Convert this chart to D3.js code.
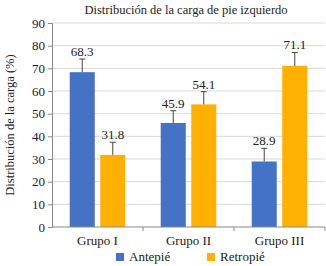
<!DOCTYPE html>
<html>
<head>
<meta charset="utf-8">
<script src="https://cdn.jsdelivr.net/npm/d3@7"></script>
<style>
  body { margin: 0; background: #fff; }
</style>
</head>
<body>
<svg id="chart"></svg>
<script>
const groups = ['Grupo I', 'Grupo II', 'Grupo III'];
const seriesNames = ['Antepié', 'Retropié'];
const antepie = [68.3, 45.9, 28.9];
const retropie = [31.8, 54.1, 71.1];
const antepieErr = [5.8, 5.4, 5.8];
const retropieErr = [5.6, 5.6, 5.9];
const yTicks = [0, 10, 20, 30, 40, 50, 60, 70, 80, 90];
const colors = ['#4472C4', '#FFB000'];

const FONT = '"Liberation Serif", "Times New Roman", Times, "DejaVu Serif", serif';
const width = 326, height = 266;
const margin = { top: 23, right: 1, bottom: 39, left: 52 };
const innerW = width - margin.left - margin.right;
const innerH = height - margin.top - margin.bottom;

const svg = d3.select('#chart').attr('width', width).attr('height', height)
  .style('font-family', FONT);
const g = svg.append('g').attr('transform', `translate(${margin.left},${margin.top})`);

const x = d3.scaleBand().domain(groups).range([0, innerW]).padding(0);
const xs = d3.scaleBand().domain(seriesNames).range([0, x.bandwidth()])
  .paddingInner(0.18).paddingOuter(0.58);
const y = d3.scaleLinear().domain([0, 90]).range([innerH, 0]);

// grid
g.append('g').selectAll('line').data(yTicks.slice(1)).enter().append('line')
  .attr('x1', 0).attr('x2', innerW)
  .attr('y1', d => y(d)).attr('y2', d => y(d))
  .attr('stroke', '#d9d9d9').attr('stroke-width', 1);

const rows = groups.map((grp, i) => ({
  grp,
  vals: [
    { s: seriesNames[0], v: antepie[i], e: antepieErr[i], c: colors[0] },
    { s: seriesNames[1], v: retropie[i], e: retropieErr[i], c: colors[1] }
  ]
}));

const gg = g.selectAll('.grp').data(rows).enter().append('g')
  .attr('class', 'grp')
  .attr('transform', d => `translate(${x(d.grp)},0)`);

const bar = gg.selectAll('.bar').data(d => d.vals).enter().append('g').attr('class', 'bar');

bar.append('rect')
  .attr('x', d => xs(d.s))
  .attr('width', xs.bandwidth())
  .attr('y', d => y(d.v))
  .attr('height', d => innerH - y(d.v))
  .attr('fill', d => d.c);

// error bars (upper only)
bar.append('line')
  .attr('x1', d => xs(d.s) + xs.bandwidth() / 2)
  .attr('x2', d => xs(d.s) + xs.bandwidth() / 2)
  .attr('y1', d => y(d.v))
  .attr('y2', d => y(d.v + d.e))
  .attr('stroke', '#444').attr('stroke-width', 1);
bar.append('line')
  .attr('x1', d => xs(d.s) + xs.bandwidth() / 2 - 3)
  .attr('x2', d => xs(d.s) + xs.bandwidth() / 2 + 3)
  .attr('y1', d => y(d.v + d.e))
  .attr('y2', d => y(d.v + d.e))
  .attr('stroke', '#444').attr('stroke-width', 1);

bar.append('text')
  .attr('x', d => xs(d.s) + xs.bandwidth() / 2)
  .attr('y', d => y(d.v + d.e) - 3)
  .attr('text-anchor', 'middle')
  .style('font-family', FONT)
  .style('font-size', '13px')
  .attr('fill', '#222')
  .text(d => d.v.toFixed(1));

// y axis
const yAxis = g.append('g')
  .call(d3.axisLeft(y).tickValues(yTicks).tickSize(4).tickPadding(3));
yAxis.attr('font-family', null);
yAxis.select('.domain').attr('stroke', '#888');
yAxis.selectAll('.tick line').attr('stroke', '#888');
yAxis.selectAll('text').style('font-size', '13px').style('font-family', FONT).attr('fill', '#222');

// x axis
const xAxisG = g.append('g').attr('transform', `translate(0,${innerH})`);
xAxisG.append('line').attr('x1', 0).attr('x2', innerW).attr('stroke', '#888');
xAxisG.selectAll('.tk').data(groups).enter().append('line')
  .attr('x1', d => x(d) + x.bandwidth()).attr('x2', d => x(d) + x.bandwidth())
  .attr('y1', 0).attr('y2', 4).attr('stroke', '#888');
xAxisG.selectAll('.lbl').data(groups).enter().append('text')
  .attr('x', d => x(d) + x.bandwidth() / 2)
  .attr('y', 18)
  .attr('text-anchor', 'middle')
  .style('font-family', FONT)
  .style('font-size', '13px')
  .attr('fill', '#222')
  .text(d => d);

// title
svg.append('text')
  .attr('x', 186).attr('y', 14)
  .attr('text-anchor', 'middle')
  .style('font-family', FONT)
  .style('font-size', '12.5px')
  .attr('fill', '#222')
  .text('Distribución de la carga de pie izquierdo');

// y label
svg.append('text')
  .attr('transform', `translate(14,${margin.top + innerH / 2}) rotate(-90)`)
  .attr('text-anchor', 'middle')
  .style('font-family', FONT)
  .style('font-size', '12.5px')
  .attr('fill', '#222')
  .text('Distribución de la carga (%)');

// legend
const legendX = [116, 207];
const leg = svg.selectAll('.leg').data(seriesNames).enter().append('g')
  .attr('transform', (d, i) => `translate(${legendX[i]},253)`);
leg.append('rect').attr('width', 8).attr('height', 8).attr('fill', (d, i) => colors[i]);
leg.append('text').attr('x', 13).attr('y', 8)
  .style('font-family', FONT)
  .style('font-size', '13px')
  .attr('fill', '#222')
  .text(d => d);
</script>
</body>
</html>
